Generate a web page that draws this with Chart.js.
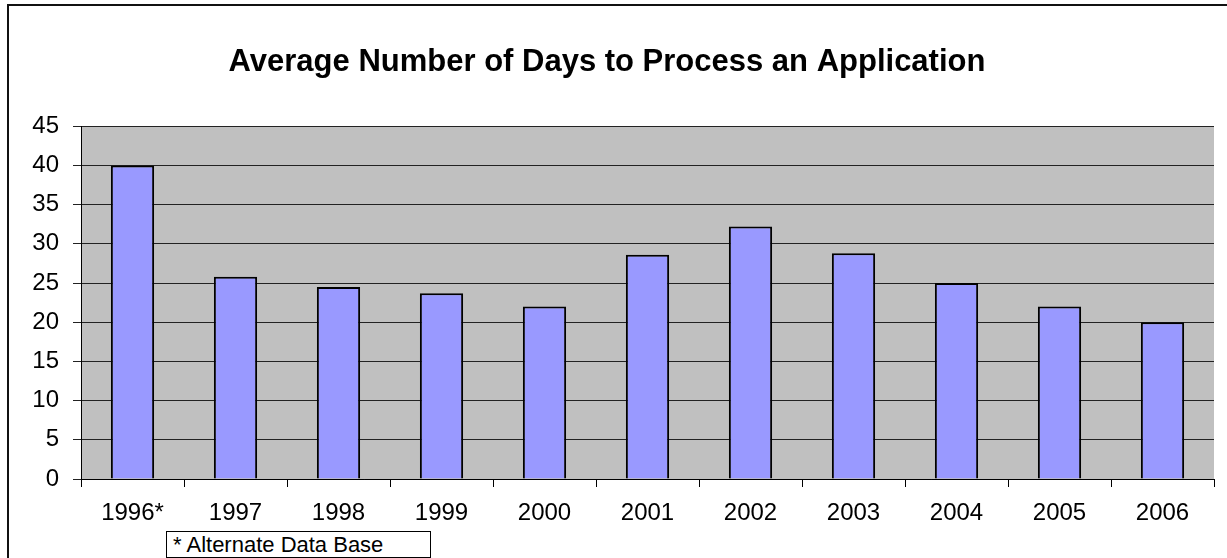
<!DOCTYPE html>
<html>
<head>
<meta charset="utf-8">
<script src="https://cdn.jsdelivr.net/npm/chart.js@4.4.0/dist/chart.umd.min.js"></script>
<style>
    body { margin: 0; background: #fff; }
    #wrap { position: relative; width: 1227px; height: 558px; overflow: hidden; }
    #frame {
        position: absolute; left: 7px; top: 4px; width: 1300px; height: 600px;
        border-left: 2px solid #111; border-top: 2px solid #111;
    }
    #note {
        position: absolute; left: 166px; top: 531px; width: 257px; height: 25px;
        border: 1px solid #000; background: #fff;
        font-family: "Liberation Sans", Arial, sans-serif; font-size: 22px;
        line-height: 25px; padding-left: 6px; box-sizing: content-box;
    }
    canvas { position: absolute; left: 0; top: 0; }
</style>
</head>
<body>
<div id="wrap">
    <div id="frame"></div>
    <canvas id="daysChart" width="1227" height="558"></canvas>
    <div id="note">* Alternate Data Base</div>
</div>
<script>
// Chart data
const years = ['1996*', '1997', '1998', '1999', '2000', '2001', '2002', '2003', '2004', '2005', '2006'];
const avgDays = [40, 25.8, 24.5, 23.7, 22, 28.6, 32.2, 28.8, 25, 22, 20];

// Grey plot background behind the bars
const plotBackground = {
    id: 'plotBackground',
    beforeDraw(chart) {
        const { ctx, chartArea: a } = chart;
        ctx.save();
        ctx.fillStyle = '#C0C0C0';
        ctx.fillRect(a.left, a.top, a.right - a.left, a.bottom - a.top);
        ctx.restore();
    }
};

const ctx = document.getElementById('daysChart').getContext('2d');

const daysChart = new Chart(ctx, {
    type: 'bar',
    data: {
        labels: years,
        datasets: [{
            label: 'Average days',
            data: avgDays,
            backgroundColor: '#9999FF',
            borderColor: '#000',
            borderWidth: 2,
            barPercentage: 0.42,
            categoryPercentage: 1
        }]
    },
    options: {
        responsive: false,
        animation: false,
        layout: { padding: { left: 0, right: 13, top: 0, bottom: 0 } },
        plugins: {
            legend: { display: false },
            tooltip: { enabled: false },
            title: {
                display: true,
                text: 'Average Number of Days to Process an Application',
                color: '#000',
                font: { family: '"Liberation Sans", Arial, sans-serif', size: 31, weight: 'bold' },
                padding: { top: 44, bottom: 45 }
            }
        },
        scales: {
            x: {
                grid: {
                    offset: true,
                    drawOnChartArea: false,
                    drawTicks: true,
                    tickLength: 8,
                    color: '#000'
                },
                border: { display: true, color: '#000', width: 1 },
                ticks: {
                    color: '#000',
                    padding: 12,
                    font: { family: '"Liberation Sans", Arial, sans-serif', size: 24 }
                },
                afterFit(scale) { scale.height = 79; }
            },
            y: {
                min: 0,
                max: 45,
                ticks: {
                    stepSize: 5,
                    color: '#000',
                    padding: 14,
                    font: { family: '"Liberation Sans", Arial, sans-serif', size: 24 }
                },
                grid: { color: '#222', lineWidth: 1, tickLength: 8 },
                border: { display: true, color: '#000', width: 1 },
                afterFit(scale) { scale.width = 81; }
            }
        }
    },
    plugins: [plotBackground]
});
</script>
</body>
</html>
